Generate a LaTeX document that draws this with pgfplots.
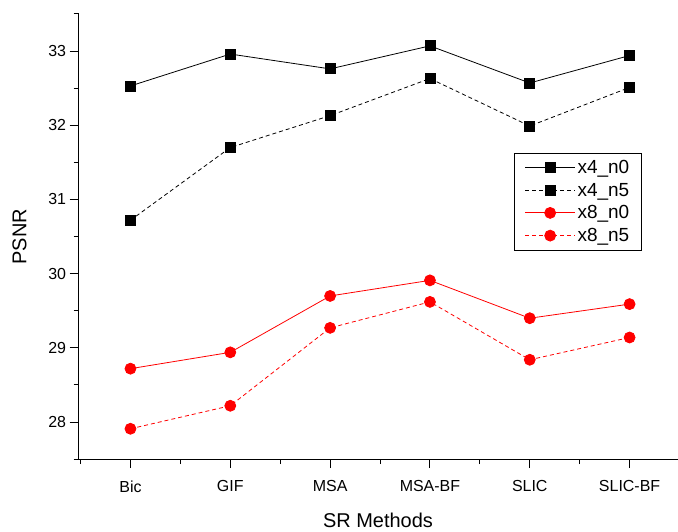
\documentclass[border=0pt]{standalone}
\usepackage{fontspec}
\setmainfont{Liberation Sans}
\usepackage{pgfplots}
\pgfplotsset{compat=1.18}

\pgfplotstableread{
idx x4n0  x4n5  x8n0  x8n5
0   32.53 30.72 28.72 27.91
1   32.96 31.70 28.94 28.22
2   32.76 32.13 29.70 29.27
3   33.07 32.63 29.91 29.62
4   32.57 31.99 29.40 28.84
5   32.94 32.51 29.59 29.14
}\psnr

\begin{document}
\begin{tikzpicture}
\begin{axis}[
    scale only axis,
    width=600pt, height=446pt,
    xmin=-0.52, xmax=5.48,
    ymin=27.5, ymax=33.5,
    axis lines*=left,
    axis line style={-, line width=1pt},
    xtick={0,1,2,3,4,5},
    xticklabels={Bic,GIF,MSA,MSA-BF,SLIC,SLIC-BF},
    minor xtick={-0.5,0.5,1.5,2.5,3.5,4.5},
    ytick={28,29,30,31,32,33},
    minor ytick={27.5,28.5,29.5,30.5,31.5,32.5,33.5},
    tick align=outside,
    major tick length=9pt,
    minor tick length=5pt,
    tick style={black, line width=1pt},
    /pgf/number format/assume math mode=true,
    tick label style={font=\fontsize{16}{18}\selectfont},
    xticklabel style={yshift=-9pt},
    xlabel={SR Methods},
    ylabel={PSNR},
    label style={font=\fontsize{20}{22}\selectfont},
    xlabel style={yshift=-14pt},
    ylabel style={yshift=15pt},
    legend style={at={(0.94,0.688)}, anchor=north east,
        font=\fontsize{19}{21}\selectfont, draw=black, line width=0.8pt,
        row sep=4pt, inner xsep=10pt, inner ysep=5pt},
    legend cell align=left,
    legend image code/.code={%
        \draw[mark repeat=2, mark phase=2, line width=0.8pt]
            plot coordinates {(0pt,0pt) (25pt,0pt) (50pt,0pt)};},
]
\addplot[black, line width=0.8pt, mark=square*, mark size=5pt, mark options={solid}]
    table[x=idx, y=x4n0] {\psnr};
\addlegendentry{x4\_n0}
\addplot[black, line width=0.8pt, dash pattern=on 4pt off 3pt, mark=square*, mark size=5pt, mark options={solid}]
    table[x=idx, y=x4n5] {\psnr};
\addlegendentry{x4\_n5}
\addplot[red, line width=0.8pt, mark=*, mark size=5.5pt, mark options={solid, fill=red}]
    table[x=idx, y=x8n0] {\psnr};
\addlegendentry{x8\_n0}
\addplot[red, line width=0.8pt, dash pattern=on 4pt off 3pt, mark=*, mark size=5.5pt, mark options={solid, fill=red}]
    table[x=idx, y=x8n5] {\psnr};
\addlegendentry{x8\_n5}
\end{axis}
\path ([yshift=14pt]current axis.north west);
\path ([xshift=-9pt]current axis.outer west);
\end{tikzpicture}
\end{document}
